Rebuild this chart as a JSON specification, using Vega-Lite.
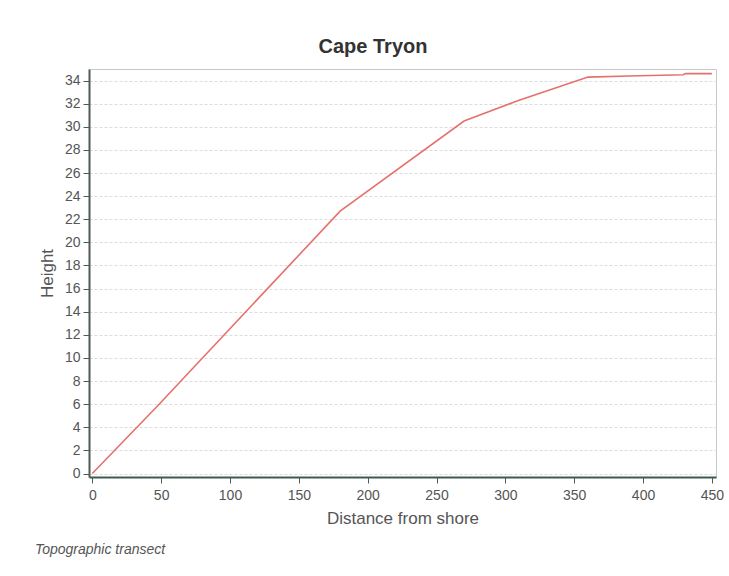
{
  "$schema": "https://vega.github.io/schema/vega-lite/v6.json",
  "background": "white",
  "padding": {"left": 34, "top": 36, "right": 8, "bottom": 16},
  "title": {
    "text": "Topographic transect",
    "orient": "bottom",
    "anchor": "start",
    "fontStyle": "italic",
    "fontWeight": "normal",
    "fontSize": 14,
    "font": "Liberation Sans",
    "color": "#555",
    "offset": 16,
    "dx": -3
  },
  "data": {
    "values": [
      {"distance": 0, "height": 0},
      {"distance": 47, "height": 5.8},
      {"distance": 180, "height": 22.7},
      {"distance": 270, "height": 30.5},
      {"distance": 310, "height": 32.3},
      {"distance": 360, "height": 34.3},
      {"distance": 390, "height": 34.4},
      {"distance": 429, "height": 34.5},
      {"distance": 431, "height": 34.6},
      {"distance": 450, "height": 34.6}
    ]
  },
  "vconcat": [
    {
      "title": {
        "text": "Cape Tryon",
        "fontSize": 20,
        "fontWeight": "bold",
        "font": "Liberation Sans",
        "color": "#333",
        "frame": "bounds",
        "offset": 12,
        "dx": -8
      },
      "width": 627,
      "height": 408,
      "mark": {"type": "line", "color": "#e6706b", "strokeWidth": 1.6},
      "encoding": {
        "x": {
          "field": "distance",
          "type": "quantitative",
          "title": "Distance from shore",
          "scale": {"domain": [-2.4, 453], "nice": false, "zero": false},
          "axis": {"values": [0, 50, 100, 150, 200, 250, 300, 350, 400, 450], "grid": false}
        },
        "y": {
          "field": "height",
          "type": "quantitative",
          "title": "Height",
          "scale": {"domain": [-0.3, 35], "nice": false, "zero": false},
          "axis": {"values": [0, 2, 4, 6, 8, 10, 12, 14, 16, 18, 20, 22, 24, 26, 28, 30, 32, 34], "grid": true}
        }
      }
    }
  ],
  "config": {
    "view": {"stroke": "#c8c8c8", "strokeWidth": 1},
    "axis": {
      "labelFont": "Liberation Sans",
      "labelFontSize": 14,
      "labelColor": "#555",
      "titleFont": "Liberation Sans",
      "titleFontSize": 17,
      "titleFontWeight": "normal",
      "titleColor": "#555",
      "domainColor": "#4d5a56",
      "domainWidth": 2,
      "tickColor": "#4d5a56",
      "tickSize": 6,
      "gridColor": "#dcdcdc",
      "gridDash": [3, 2]
    },
    "axisY": {"titlePadding": 8, "labelPadding": 3},
    "axisX": {"titlePadding": 8, "labelPadding": 5, "domainColor": "#3f5a50", "labelFlush": false}
  }
}
